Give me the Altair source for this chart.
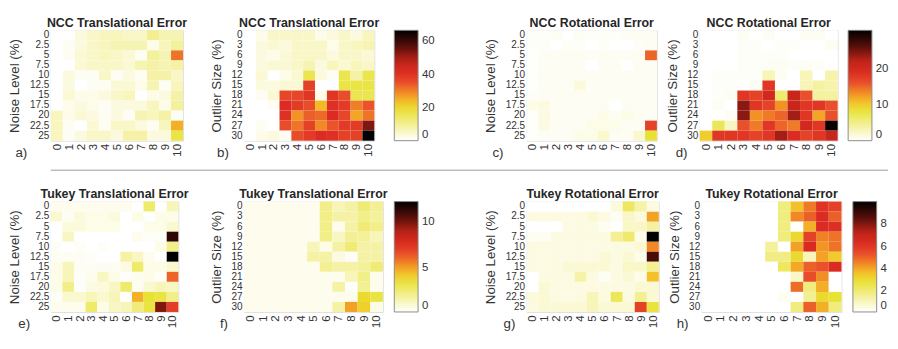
import altair as alt
import pandas as pd

cols = [str(i) for i in range(11)]
noise_levels = ["0", "2.5", "5", "7.5", "10", "12.5", "15", "17.5", "20", "22.5", "25"]
outlier_sizes = ["0", "3", "6", "9", "12", "15", "18", "21", "24", "27", "30"]

# a) NCC translational error vs noise level
ncc_trans_noise = [
    [0, 0, 3, 5, 6, 6, 5, 5, 10, 7, 7],
    [0, 1, 3, 5, 6, 7, 7, 7, 2, 6, 9],
    [0, 1, 4, 5, 6, 5, 4, 1, 9, 7, 31],
    [0, 0, 4, 5, 5, 5, 4, 7, 8, 7, 8],
    [0, 3, 1, 1, 5, 1, 3, 1, 8, 8, 5],
    [0, 3, 0, 1, 1, 4, 4, 2, 7, 1, 6],
    [0, 4, 2, 2, 3, 5, 6, 0, 2, 3, 8],
    [0, 2, 3, 2, 1, 3, 3, 3, 6, 2, 9],
    [6, 2, 4, 3, 1, 3, 1, 7, 6, 8, 1],
    [6, 1, 0, 4, 1, 5, 5, 3, 1, 6, 25],
    [6, 1, 3, 5, 5, 3, 8, 8, 3, 3, 17],
]
# b) NCC translational error vs outlier size
ncc_trans_outlier = [
    [0, 2, 5, 5, 5, 5, 2, 3, 5, 3, 6],
    [0, 3, 4, 3, 5, 5, 5, 2, 5, 6, 7],
    [0, 3, 2, 4, 5, 5, 5, 3, 5, 5, 4],
    [0, 3, 4, 4, 5, 7, 3, 6, 4, 6, 5],
    [0, 4, 0, 2, 4, 16, 3, 1, 16, 8, 16],
    [0, 3, 3, 4, 4, 37, 0, 0, 17, 17, 17],
    [0, 1, 4, 36, 36, 39, 2, 39, 35, 16, 16],
    [0, 0, 1, 41, 38, 35, 24, 40, 38, 30, 34],
    [0, 0, 0, 40, 28, 33, 32, 41, 36, 26, 31],
    [0, 1, 0, 35, 31, 37, 29, 34, 38, 38, 53],
    [0, 2, 3, 1, 35, 38, 41, 40, 37, 37, 66],
]
# c) NCC rotational error vs noise level
ncc_rot_noise = [
    [0.3, 0.3, 0.5, 0, 0.5, 0.3, 0.3, 0.3, 0.5, 0.5, 0.5],
    [0.3, 0.3, 0, 0.3, 0.3, 0, 0.3, 0, 0, 0.3, 0.5],
    [0.2, 0.5, 0.5, 0.5, 0.5, 0.5, 0.5, 0.5, 0.5, 0.5, 15],
    [0.2, 0.5, 0.5, 0.5, 0.5, 0, 0.5, 0.5, 0, 0.5, 0.5],
    [0.2, 0.5, 0.5, 0.5, 0.5, 0.5, 0.5, 0.5, 0.5, 0.5, 0.5],
    [0.2, 0.5, 0.5, 0.5, 1.5, 0.5, 0.5, 0.5, 0.5, 0.5, 0.5],
    [0.3, 0.5, 0.5, 0.5, 0.5, 0.5, 0.5, 0.5, 0.5, 0.5, 0.5],
    [1.0, 1.2, 0.5, 0.5, 0.5, 0.5, 0.5, 0, 0.5, 0.5, 0.5],
    [0.2, 1.2, 0.5, 0.5, 0.5, 0.5, 1.0, 0.5, 1.0, 0.5, 0.5],
    [0.2, 1.2, 0.5, 0.5, 0.5, 1.0, 1.0, 1.0, 0.5, 0.5, 17],
    [0.2, 0.5, 0.5, 0.5, 1.0, 1.0, 2.0, 0.5, 0.5, 2.0, 8.5],
]
# d) NCC rotational error vs outlier size
ncc_rot_outlier = [
    [0, 0, 0, 0.5, 0, 0.5, 0, 0, 0.5, 0.5, 0],
    [0, 0, 0, 0.3, 0.3, 0, 0.3, 0.3, 0, 0, 0.5],
    [0, 0, 0, 0.3, 0.3, 0.3, 0.3, 0, 0, 0, 0],
    [0, 0, 0, 0.3, 0.3, 0.5, 0.5, 0.3, 0.5, 0.3, 0],
    [0, 0.3, 0.3, 0.3, 0.3, 3, 0.5, 0, 3, 0, 3.5],
    [0, 0.3, 0.3, 0, 0.5, 18, 0, 0, 3, 4, 3.5],
    [0, 0.3, 0.5, 18, 17, 20, 6, 21, 16, 4, 4],
    [0, 0.5, 0, 24, 18, 17, 13, 21, 18, 18, 16],
    [0, 0, 0.5, 24, 13, 14, 15, 23, 18, 12, 16],
    [0, 7, 2.5, 16, 14, 18, 15, 14, 20, 18, 30],
    [10, 18, 18, 18, 17, 18, 23, 19, 17, 18, 21],
]
# e) Tukey translational error vs noise level
tukey_trans_noise = [
    [0.3, 0.3, 0.3, 0.3, 0.3, 0.3, 0.3, 0, 2.5, 0, 1.2],
    [0.8, 0.2, 0.6, 0.4, 0.4, 0.6, 0, 0.4, 0, 0.4, 0.4],
    [0, 0.6, 0.6, 0.4, 0.4, 0.4, 0, 0, 0.4, 0.4, 0.8],
    [0, 1.0, 0, 0, 0, 0, 0, 0.3, 0.1, 0.1, 11.3],
    [0.1, 0, 0.1, 0, 0.1, 0, 0, 0, 0, 0.4, 2.0],
    [0.2, 0.2, 0.2, 0.1, 0, 0, 1.5, 1.0, 0.3, 0, 12.2],
    [0.4, 1.2, 0.2, 0.2, 0.2, 0.2, 0.5, 2.5, 0.4, 0.4, 0.8],
    [0.4, 1.2, 0.1, 0.3, 1.0, 0.4, 0.1, 0.3, 0.4, 0.1, 6.0],
    [0.4, 2.0, 0.1, 0.5, 0.6, 1.0, 2.5, 0.2, 0.8, 1.2, 1.0],
    [0.1, 0.8, 0.8, 1.2, 0.8, 1.2, 0, 4.6, 3.4, 3.2, 2.0],
    [0.3, 0.3, 0.3, 2.5, 0.4, 1.0, 1.2, 2.2, 3.2, 9.8, 7.0],
]
# f) Tukey translational error vs outlier size
tukey_trans_outlier = [
    [0.3, 0.3, 0.3, 0.3, 0.3, 0.3, 2.0, 1.2, 1.5, 2.3, 1.8],
    [0.3, 0.3, 0.3, 0.3, 0.3, 0.3, 2.0, 1.5, 1.5, 2.0, 1.7],
    [0.3, 0.3, 0.3, 0.3, 0.3, 0.3, 2.0, 0.3, 1.5, 2.3, 2.0],
    [0.3, 0.3, 0.3, 0.3, 0.3, 0.3, 2.0, 1.0, 1.8, 1.7, 1.2],
    [0.3, 0.3, 0.3, 0.3, 0.3, 1.2, 0.4, 1.5, 2.3, 1.5, 1.5],
    [0.3, 0.3, 0.3, 0.3, 0.3, 1.5, 1.5, 0.5, 0.1, 1.5, 1.5],
    [0.3, 0.3, 0.3, 0.3, 0.3, 0.3, 1.8, 1.5, 1.5, 1.7, 2.3],
    [0.3, 0.3, 0.3, 0.3, 0.3, 0.3, 0.3, 0.3, 1.2, 2.0, 0.3],
    [0.3, 0.3, 0.3, 0.3, 0.3, 0.3, 0.3, 1.5, 0.1, 1.8, 0.3],
    [0.3, 0.3, 0.3, 0.3, 0.3, 0.3, 0.3, 0.3, 0.3, 3.6, 3.2],
    [0.3, 0.3, 0.3, 0.3, 0.3, 0.3, 0.3, 1.5, 4.9, 3.9, 0.4],
]
# g) Tukey rotational error vs noise level
tukey_rot_noise = [
    [0, 0, 0, 0, 0, 0, 0, 0.5, 2.2, 1.2, 0.4],
    [0.4, 0.4, 0.4, 0.4, 0.4, 0.6, 0.4, 0.2, 0.8, 0.5, 4.0],
    [0, 0, 0, 0.4, 0.4, 0.4, 0.2, 0, 0.8, 0.8, 1.3],
    [0.2, 0.2, 0.4, 0.4, 0.4, 0.4, 0.4, 1.5, 2.0, 0.3, 10],
    [0.4, 0.4, 0.4, 0.4, 0.4, 0.4, 0.4, 0.4, 0.4, 0.6, 4.4],
    [0.4, 0.4, 0.4, 0.4, 0.4, 0.4, 0.6, 0.4, 0.6, 0.3, 8.8],
    [0.4, 0.4, 0.4, 0.6, 0.6, 0.6, 0.6, 0.4, 0.8, 0.8, 1.5],
    [0, 0.4, 0.4, 0.4, 1.2, 0.4, 0.2, 0.4, 0.6, 0.3, 3.5],
    [0, 0.6, 0.4, 0.4, 0.4, 0.4, 0.4, 0.4, 0.4, 0.6, 0.6],
    [0.5, 0.6, 0.4, 0.4, 0.4, 1.0, 0.4, 2.3, 0.4, 1.5, 0.6],
    [0.4, 0.6, 0.6, 0.6, 0.6, 1.0, 0.6, 0.6, 0.6, 5.6, 2.7],
]
# h) Tukey rotational error vs outlier size
tukey_rot_outlier = [
    [0, 0, 0, 0, 0, 0, 1.8, 3.5, 4.6, 6.0, 5.6],
    [0, 0, 0, 0, 0, 0, 1.8, 4.4, 5.0, 6.2, 5.0],
    [0, 0, 0, 0, 0, 0, 1.8, 0, 3.8, 6.2, 6.1],
    [0, 0, 0, 0, 0, 0, 1.8, 3.0, 5.6, 4.5, 4.7],
    [0, 0, 0, 0, 0, 1.4, 0, 4.0, 6.3, 4.2, 4.7],
    [0, 0, 0, 0, 0, 1.7, 1.7, 3.0, 1.0, 4.0, 3.3],
    [0, 0, 0, 0, 0, 0, 2.2, 3.9, 5.0, 5.2, 6.2],
    [0, 0, 0, 0, 0, 0, 0, 0.8, 5.3, 4.3, 0],
    [0, 0, 0, 0, 0, 0, 0, 4.8, 1.8, 3.8, 0],
    [0, 0, 0, 0, 0, 0, 0.2, 0, 1.5, 3.0, 2.8],
    [0, 0, 0, 0, 0, 0, 0, 1.8, 5.0, 3.8, 1.8],
]

color_stops = [0, 0.28, 0.35, 0.43, 0.52, 0.62, 0.72, 0.85, 1.0]
color_list = ["#ffffff", "#e8e234", "#f4c228", "#f28f24", "#e9512a",
              "#dc2b22", "#c02418", "#5a0f0a", "#000000"]

FONT = "Liberation Sans"
TXT = "#333333"
H = 116


def panel(grid, rows, ytitle, title, letter, vmax, width, letter_dx,
          legend_values=None, legend_offset=12):
    records = []
    for r, row in zip(rows, grid):
        for c, v in zip(cols, row):
            records.append({"r": r, "c": c, "v": v})
    df = pd.DataFrame(records)
    if legend_values is not None:
        legend = alt.Legend(title=None, values=legend_values, gradientLength=H,
                            gradientThickness=25, gradientStrokeColor="#888888",
                            gradientStrokeWidth=1, labelFontSize=12,
                            labelColor=TXT, labelFont=FONT, offset=legend_offset,
                            padding=0, labelOffset=4,
                            direction="vertical", orient="right")
    else:
        legend = None
    color = alt.Color(
        "v:Q",
        scale=alt.Scale(domain=[s * vmax for s in color_stops], range=color_list,
                        clamp=True, interpolate="rgb"),
        legend=legend,
    )
    heat = alt.Chart(df).mark_rect().encode(
        x=alt.X("c:O", sort=cols, title=None,
                scale=alt.Scale(paddingInner=0, paddingOuter=0),
                axis=alt.Axis(labelAngle=270, ticks=False, domain=False,
                              labelPadding=3, labelFontSize=12, labelColor=TXT,
                              labelFont=FONT, labelOverlap=False, minExtent=0)),
        y=alt.Y("r:O", sort=rows, title=ytitle,
                scale=alt.Scale(paddingInner=0, paddingOuter=0),
                axis=alt.Axis(ticks=False, domain=False, labelPadding=2,
                              labelFontSize=10.5, labelColor=TXT, labelFont=FONT,
                              labelOverlap=False, titleFontSize=14,
                              titleFontWeight="normal", titleColor=TXT,
                              titleFont=FONT, titlePadding=8, minExtent=0)),
        color=color,
    )
    texts = pd.DataFrame({"t": [letter], "ttl": [title]})
    lab = alt.Chart(texts).mark_text(
        fontSize=14, font=FONT, color=TXT, align="center", baseline="middle"
    ).encode(text="t:N", x=alt.value(letter_dx), y=alt.value(H + 13))
    ttl = alt.Chart(texts).mark_text(
        fontSize=13, font=FONT, fontWeight="bold", color="#262626",
        align="center", baseline="middle"
    ).encode(text="ttl:N", x=alt.value(width / 2), y=alt.value(-8))
    return alt.layer(heat, lab, ttl).properties(width=width, height=H)


pa = panel(ncc_trans_noise, noise_levels, "Noise Level (%)", "NCC Translational Error",
           "a)", 66, 139, -31)
pb = panel(ncc_trans_outlier, outlier_sizes, "Outlier Size (%)", "NCC Translational Error",
           "b)", 66, 137, -22, [0, 20, 40, 60], 21)
pc = panel(ncc_rot_noise, noise_levels, "Noise Level (%)", "NCC Rotational Error",
           "c)", 30.5, 137, -30)
pd_ = panel(ncc_rot_outlier, outlier_sizes, "Outlier Size (%)", "NCC Rotational Error",
            "d)", 30.5, 145, -19, [0, 10, 20], 11)
pe = panel(tukey_trans_noise, noise_levels, "Noise Level (%)", "Tukey Translational Error",
           "e)", 12.2, 134, -28)
pf = panel(tukey_trans_outlier, outlier_sizes, "Outlier Size (%)", "Tukey Translational Error",
           "f)", 12.2, 146, -21, [0, 5, 10], 12)
pg = panel(tukey_rot_noise, noise_levels, "Noise Level (%)", "Tukey Rotational Error",
           "g)", 10, 139, -18)
ph = panel(tukey_rot_outlier, outlier_sizes, "Outlier Size (%)", "Tukey Rotational Error",
           "h)", 10, 147, -20, [0, 2, 4, 6, 8], 12)


def pair(p1, p2, sp):
    return alt.hconcat(p1, p2, spacing=sp).resolve_scale(color="independent").resolve_legend(color="independent")


row1 = alt.hconcat(pair(pa, pb, 22), pair(pc, pd_, 7), spacing=50).resolve_scale(
    color="independent").resolve_legend(color="independent")
row2 = alt.hconcat(pair(pe, pf, 20), pair(pg, ph, 7), spacing=50).resolve_scale(
    color="independent").resolve_legend(color="independent")

sep = alt.Chart(pd.DataFrame({"a": [0]})).mark_rule(color="#9a9a9a", strokeWidth=1).encode(
    x=alt.value(0), x2=alt.value(880), y=alt.value(0)
).properties(width=880, height=8, view=alt.ViewBackground(stroke="transparent"))

chart = alt.vconcat(row1, sep, row2, spacing=9).resolve_scale(
    color="independent").resolve_legend(color="independent").properties(
    padding={"left": 0, "top": 0, "right": 0, "bottom": 0}
).configure_view(stroke="#7a7a7a", strokeWidth=1).configure(background="white")

chart.save("out.html", embed_options={"renderer": "svg", "actions": False})
